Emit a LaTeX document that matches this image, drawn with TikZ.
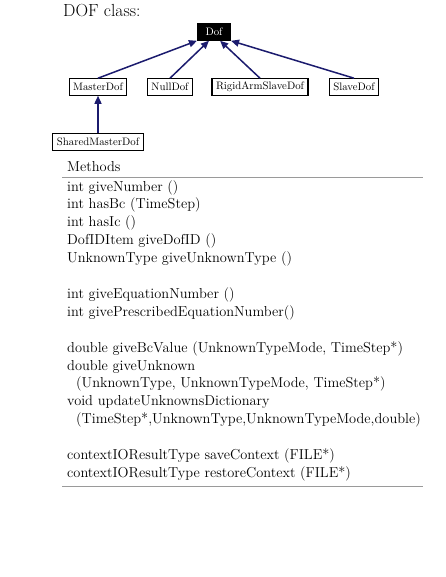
\documentclass[tikz,border=0pt]{standalone}
\usepackage{xcolor}
\usepackage{tikz}
\usetikzlibrary{positioning, arrows.meta, calc}
\definecolor{navy}{HTML}{1B1B6E}
\definecolor{rule}{HTML}{9A9A9A}

\begin{document}
\begin{tikzpicture}[x=1pt, y=-1pt,
      cls/.style={draw, line width=1.1pt, inner xsep=4pt, inner ysep=2pt, minimum height=16.5pt,
        font=\fontsize{10.8}{12}\selectfont},
      inherit/.style={-{Triangle[length=8pt, width=7pt]}, line width=1.5pt, color=navy},
      meth/.style={anchor=base west, inner sep=0pt, font=\fontsize{14.4}{17}\selectfont}]

    \useasboundingbox[fill=white] (0, 0) rectangle (446, 577);

    \node[anchor=base west, inner sep=0pt, font=\fontsize{17.5}{21}\selectfont]
      (title) at (63, 17) {DOF class:};

    % class graph
    \node[cls, fill=black, text=white, minimum width=33pt] (dof) at (214, 32) {Dof};
    \node[cls] (mdof) at (98, 87) {MasterDof};
    \node[cls] (ndof) at (170, 87) {NullDof};
    \node[cls] (rdof) at (260, 87) {RigidArmSlaveDof};
    \node[cls] (sdof) at (354, 87) {SlaveDof};
    \node[cls] (smdof) at (98, 142) {SharedMasterDof};

    \draw[inherit] (mdof.north) -- (dof.south west);
    \draw[inherit] (ndof.north) -- (dof.240);
    \draw[inherit] (rdof.north) -- (dof.305);
    \draw[inherit] (sdof.north) -- (dof.south east);
    \draw[inherit] (smdof.north) -- (mdof.south);

    % methods table
    \node[meth] (head) at (67, 172) {Methods};
    \coordinate (rtop) at (423, 177);
    \draw[rule, line width=0.8pt] (head.west |- rtop) ++(-5, 0) -- (rtop);

    \foreach \i/\txt in {0/{int giveNumber ()},
        1/{int hasBc (TimeStep)},
        2/{int hasIc ()},
        3/{DofIDItem giveDofID ()},
        4/{UnknownType giveUnknownType ()},
        6/{int giveEquationNumber ()},
        7/{int givePrescribedEquationNumber()},
        9/{double giveBcValue (UnknownTypeMode, TimeStep*)},
        10/{double giveUnknown},
        11/{\hspace*{9pt}(UnknownType, UnknownTypeMode, TimeStep*)},
        12/{void updateUnknownsDictionary},
        13/{\hspace*{9pt}(TimeStep*,UnknownType,UnknownTypeMode,double)},
        15/{contextIOResultType saveContext (FILE*)},
        16/{contextIOResultType restoreContext (FILE*)}}
      \node[meth] (m\i) at (67, 191 + 17.9*\i) {\txt};

    \coordinate (rbot) at (423, 486);
    \draw[rule, line width=0.8pt] (head.west |- rbot) ++(-5, 0) -- (rbot);
  \end{tikzpicture}
\end{document}
